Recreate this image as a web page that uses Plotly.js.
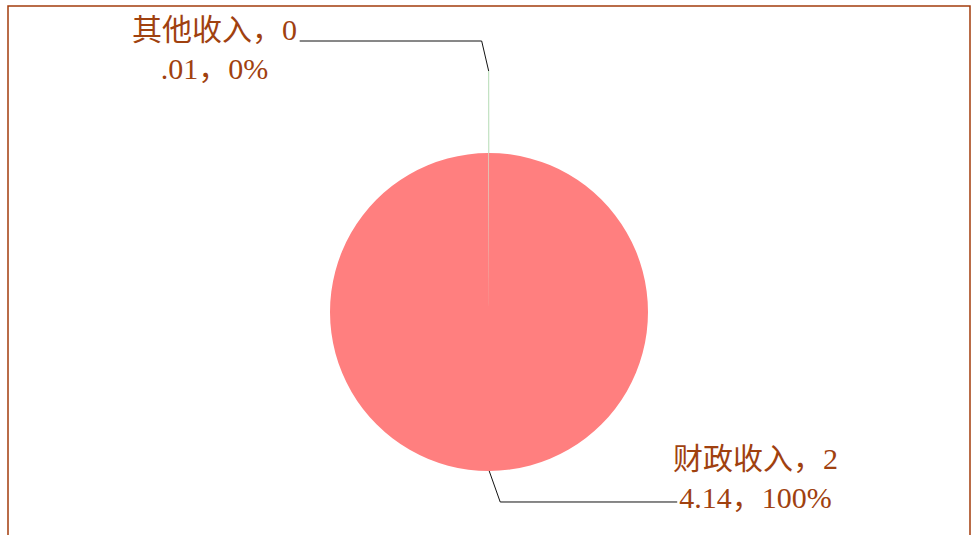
<!DOCTYPE html>
<html>
<head>
<meta charset="utf-8">
<script src="https://cdn.plot.ly/plotly-3.0.1.min.js"></script>
<style>html,body{margin:0;padding:0;background:#fff;}#chart{width:972px;height:535px;}</style>
</head>
<body>
<div id="chart"></div>
<script>
const categories = ['财政收入', '其他收入'];
const values = [24.14, 0.01];
const sliceColors = ['#FF7F7F', '#B5DCB5'];

const W = 972, H = 535;
const cx = 489, cy = 312, R = 159;
const textColor = '#A0410F';
const fontFamily = '"Liberation Serif", "Noto Sans CJK SC", serif';

const total = values.reduce((a, b) => a + b, 0);
const px = x => x / W;
const py = y => 1 - y / H;

// label wrapping and leader geometry (style only)
const labelStyle = [
  { radial: 0, elbow: [11, 31], run: 177, side: 'left', textDy: 14 },
  { radial: 82, elbow: [-7, -30], run: -182, side: 'right', textDy: -30 }
];

const annotations = [];
const shapes = [];
let cum = 0;
categories.forEach((cat, i) => {
  const v = values[i];
  const midFrac = (cum + v / 2) / total;
  cum += v;
  const th = midFrac * 2 * Math.PI; // clockwise from top
  const ex = cx + R * Math.sin(th), ey = cy - R * Math.cos(th);
  const st = labelStyle[i];
  const rx = cx + (R + st.radial) * Math.sin(th), ry = cy - (R + st.radial) * Math.cos(th);
  const bx = rx + st.elbow[0], by = ry + st.elbow[1];
  const hx = bx + st.run, hy = by;
  if (st.radial > 0) {
    shapes.push({ type: 'line', xref: 'paper', yref: 'paper', x0: px(ex), y0: py(ey), x1: px(rx), y1: py(ry),
      line: { color: sliceColors[i], width: 1 } });
  }
  shapes.push({ type: 'path', xref: 'paper', yref: 'paper',
    path: `M ${px(rx)},${py(ry)} L ${px(bx)},${py(by)} L ${px(hx)},${py(hy)}`,
    line: { color: '#111111', width: 1 } });
  const pct = Math.round(v / total * 100) + '%';
  const full = cat + '，' + v.toFixed(2) + '，' + pct;
  const txt = full.slice(0, 6) + '<br>' + full.slice(6);
  annotations.push({
    xref: 'paper', yref: 'paper', showarrow: false,
    x: px(hx + (st.side === 'left' ? -6 : -1)),
    y: py(hy + st.textDy),
    xanchor: st.side === 'left' ? 'left' : 'right',
    yanchor: st.side === 'left' ? 'bottom' : 'top',
    align: 'center',
    text: txt,
    font: { family: fontFamily, size: 30, color: textColor }
  });
});

shapes.push({ type: 'rect', xref: 'paper', yref: 'paper', x0: px(8), x1: px(970), y0: -0.2, y1: py(6),
  line: { color: '#A33C0C', width: 1.5 }, layer: 'below' });

const data = [{
  type: 'pie',
  labels: categories,
  values: values,
  sort: false,
  direction: 'clockwise',
  rotation: 0,
  textinfo: 'none',
  hoverinfo: 'label+value+percent',
  marker: { colors: sliceColors, line: { width: 0 } },
  domain: { x: [px(cx - R), px(cx + R)], y: [py(cy + R), py(cy - R)] },
  showlegend: false
}];

const layout = {
  width: W, height: H,
  margin: { l: 0, r: 0, t: 0, b: 0 },
  paper_bgcolor: '#ffffff',
  showlegend: false,
  annotations: annotations,
  shapes: shapes
};

Plotly.newPlot('chart', data, layout, { displayModeBar: false, staticPlot: true });
</script>
</body>
</html>
